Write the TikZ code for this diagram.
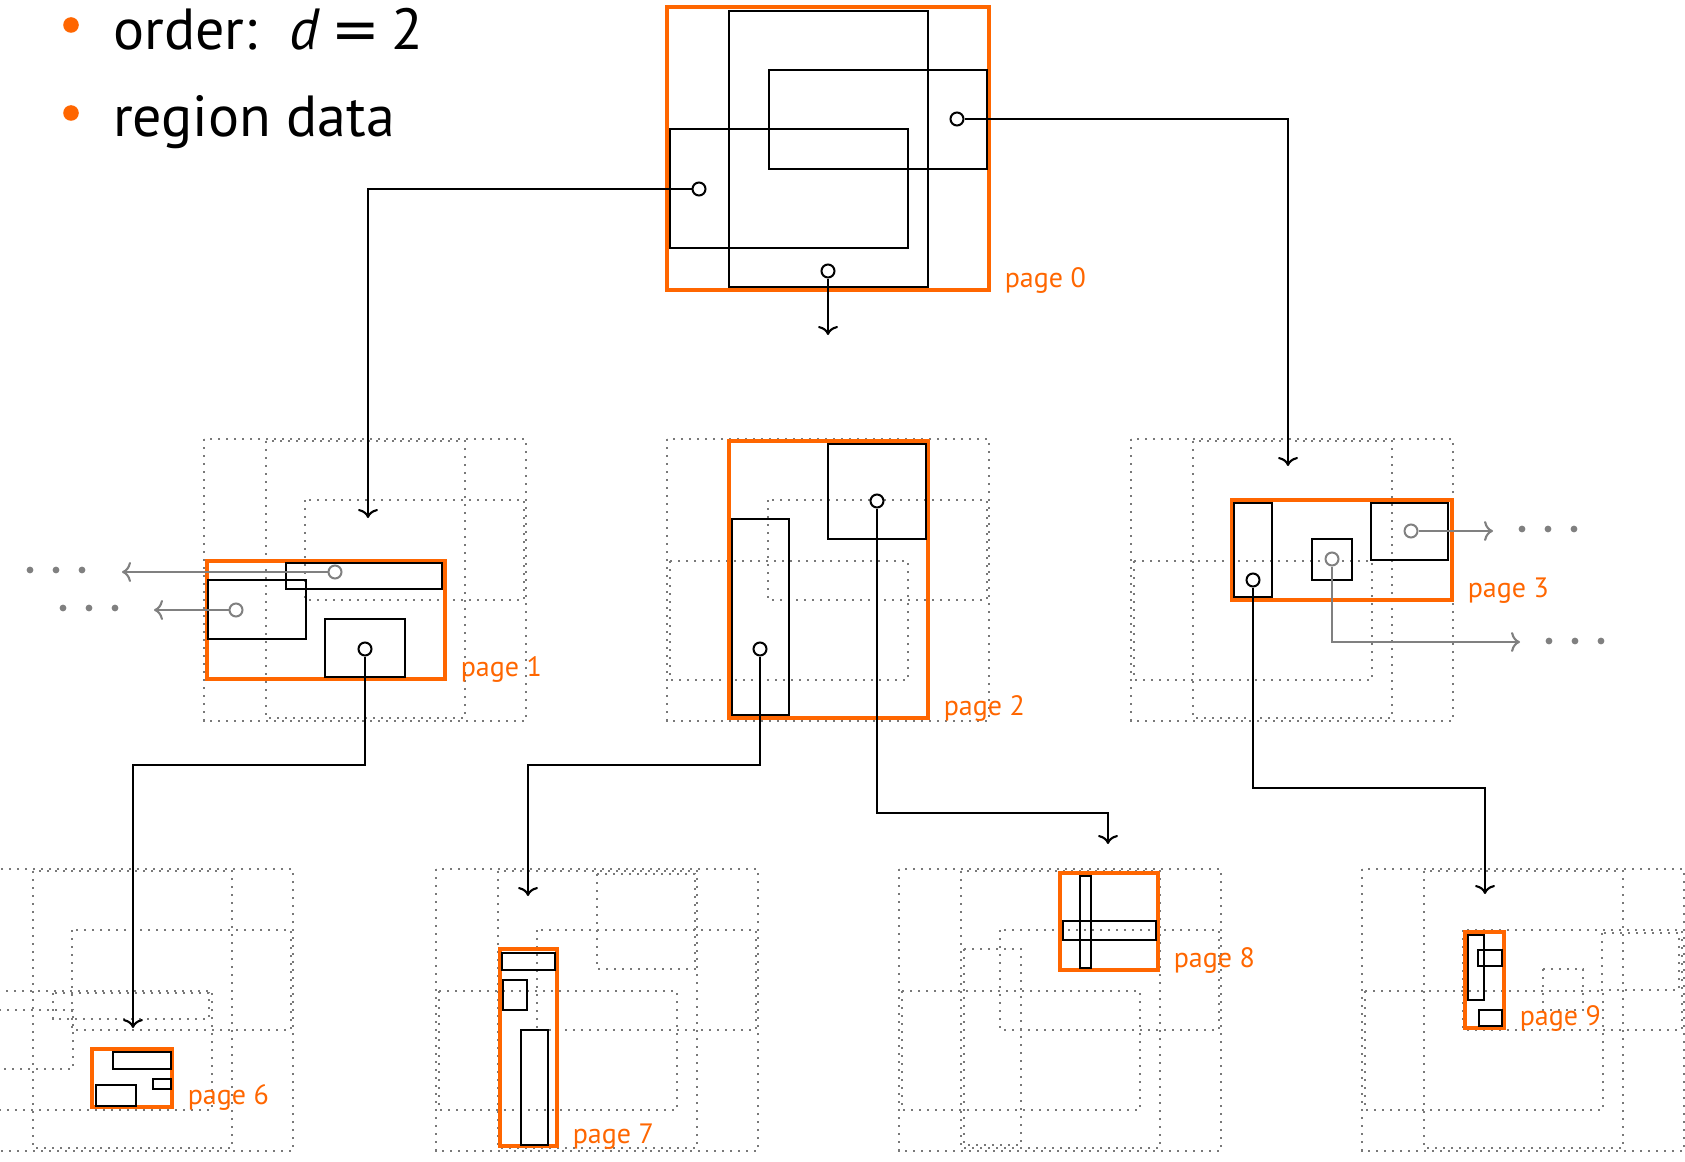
\documentclass[tikz,border=0pt]{standalone}
\usepackage{fontspec}
\setmainfont{PT Sans}
\newfontfamily\eqfont{DejaVu Sans}
\usepackage{xcolor}
\usepackage{tikz}
\usetikzlibrary{arrows.meta}
\definecolor{pageorange}{RGB}{255,102,0}

% region layout of page 0, redrawn dotted in every panel
\newcommand\regiongrid{%
  \draw[zone] (0,0) rectangle (322,282);
  \draw[zone] (62,2) rectangle (261,279);
  \draw[zone] (101,61) rectangle (320,161);
  \draw[zone] (3,122) rectangle (241,241);
}

\begin{document}
\begin{tikzpicture}[x=1pt,y=-1pt,>={Computer Modern Rightarrow[length=9pt,width=20pt]}]
  \tikzset{
    zone/.style={draw=gray!95!black, line width=2.2pt, dash pattern=on 2.2pt off 5.8pt},
    entry/.style={draw=black, line width=2.3pt},
    pagebox/.style={draw=pageorange, line width=3.6pt},
    pagelabel/.style={text=pageorange, font=\fontsize{28}{30}\selectfont, anchor=base west, inner sep=0pt, xshift=14pt, yshift=3pt},
    slot/.style={circle, draw=black, line width=2pt, fill=white, inner sep=0pt, minimum size=13pt},
    farslot/.style={slot, draw=gray},
    link/.style={draw=black, line width=2.1pt, ->},
    farlink/.style={link, draw=gray},
    bullet/.style={circle, fill=pageorange, inner sep=0pt, minimum size=15.6pt},
    headline/.style={anchor=base west, inner sep=0pt, font=\fontsize{58}{60}\selectfont}
  }
  \useasboundingbox (0,0) rectangle (1685,1161);
  \clip (0,0) rectangle (1685,1161);

  % bullets
  \node[bullet] (b1) at (71,25) {};
  \node[headline] (h1) at (113,50) {order:\hspace{0.55em}\textit{d}\hspace{0.2em}{\eqfont =}\hspace{0.2em}2};
  \node[bullet] (b2) at (71,113) {};
  \node[headline] (h2) at (113,137) {region data};

  % page 0
  \draw[pagebox] (667,7) rectangle (989,290) node[pagelabel] (l0) {page 0};
  \draw[entry] (729,11) rectangle (928,287);
  \draw[entry] (769,70) rectangle (987,169);
  \draw[entry] (670,129) rectangle (908,248);
  \node[slot] (c0l) at (699,189) {};
  \node[slot] (c0r) at (957,119) {};
  \node[slot] (c0b) at (828,271) {};

  % page 1
  \begin{scope}[shift={(204,439)}]
    \regiongrid
    \draw[pagebox] (3,122) rectangle (241,240) node[pagelabel] (l1) {page 1};
    \draw[entry] (82,124) rectangle (238,150) (4,141) rectangle (102,200) (121,180) rectangle (201,238);
    \node[farslot] (c1a) at (131,133) {};
    \node[farslot] (c1b) at (32,171) {};
    \node[slot] (c1c) at (161,210) {};
  \end{scope}

  % page 2
  \begin{scope}[shift={(667,439)}]
    \regiongrid
    \draw[pagebox] (62,2) rectangle (261,279) node[pagelabel] (l2) {page 2};
    \draw[entry] (161,5) rectangle (259,100) (65,80) rectangle (122,276);
    \node[slot] (c2d) at (210,62) {};
    \node[slot] (c2e) at (93,210) {};
  \end{scope}

  % page 3
  \begin{scope}[shift={(1131,439)}]
    \regiongrid
    \draw[pagebox] (101,61) rectangle (321,161) node[pagelabel] (l3) {page 3};
    \draw[entry] (103,64) rectangle (141,158) (181,100) rectangle (221,141) (240,64) rectangle (317,121);
    \node[slot] (c3f) at (122,141) {};
    \node[farslot] (c3g) at (201,120) {};
    \node[farslot] (c3h) at (280,92) {};
  \end{scope}

  % page 6
  \begin{scope}[shift={(-29,869)}]
    \regiongrid
    \draw[zone] (82,124) rectangle (238,150) (4,141) rectangle (102,200);
    \draw[pagebox] (121,180) rectangle (201,238) node[pagelabel] (l6) {page 6};
    \draw[entry] (142,183) rectangle (200,200) (182,210) rectangle (200,220) (125,216) rectangle (165,237);
  \end{scope}

  % page 7
  \begin{scope}[shift={(436,869)}]
    \regiongrid
    \draw[zone] (161,5) rectangle (259,100);
    \draw[pagebox] (64,80) rectangle (121,277) node[pagelabel] (l7) {page 7};
    \draw[entry] (66,84) rectangle (119,101) (67,111) rectangle (91,141) (85,161) rectangle (112,276);
  \end{scope}

  % page 8
  \begin{scope}[shift={(899,869)}]
    \regiongrid
    \draw[zone] (65,80) rectangle (122,276);
    \draw[pagebox] (161,4) rectangle (259,101) node[pagelabel] (l8) {page 8};
    \draw[entry] (181,7) rectangle (192,99) (164,52) rectangle (257,71);
  \end{scope}

  % page 9
  \begin{scope}[shift={(1362,869)}]
    \regiongrid
    \draw[zone] (181,100) rectangle (221,141) (240,64) rectangle (317,121);
    \draw[pagebox] (103,63) rectangle (142,159) node[pagelabel] (l9) {page 9};
    \draw[entry] (106,66) rectangle (122,131) (116,81) rectangle (140,97) (117,141) rectangle (140,157);
  \end{scope}

  % arrow ends and bends
  \coordinate (to1) at (368,518);
  \coordinate (to2) at (828,335);
  \coordinate (to3) at (1288,466);
  \coordinate (k6) at (133,765);
  \coordinate (to6) at (133,1028);
  \coordinate (k7) at (528,765);
  \coordinate (to7) at (528,896);
  \coordinate (k8) at (1108,813);
  \coordinate (to8) at (1108,844);
  \coordinate (k9) at (1485,788);
  \coordinate (to9) at (1485,894);
  \coordinate (far1a) at (122,572);
  \coordinate (far1b) at (154,610);
  \coordinate (far3h) at (1493,531);
  \coordinate (far3g) at (1520,642);

  \draw[link] (c0l.west) -| (to1);
  \draw[link] (c0b.south) -- (to2);
  \draw[link] (c0r.east) -| (to3);
  \draw[link] (c1c.south) |- (k6) -- (to6);
  \draw[link] (c2e.south) |- (k7) -- (to7);
  \draw[link] (c2d.south) |- (k8) -- (to8);
  \draw[link] (c3f.south) |- (k9) -- (to9);

  % pointers to pages not shown
  \draw[farlink] (c1a.west) -- (far1a);
  \draw[farlink] (c1b.west) -- (far1b);
  \draw[farlink] (c3h.east) -- (far3h);
  \draw[farlink] (c3g.south) |- (far3g);
  \foreach \x in {30,56,82} \fill[gray] (\x,570) circle (3.4);
  \foreach \x in {63,89,115} \fill[gray] (\x,608) circle (3.4);
  \foreach \x in {1522,1548,1574} \fill[gray] (\x,529) circle (3.4);
  \foreach \x in {1549,1575,1601} \fill[gray] (\x,641) circle (3.4);
\end{tikzpicture}
\end{document}
